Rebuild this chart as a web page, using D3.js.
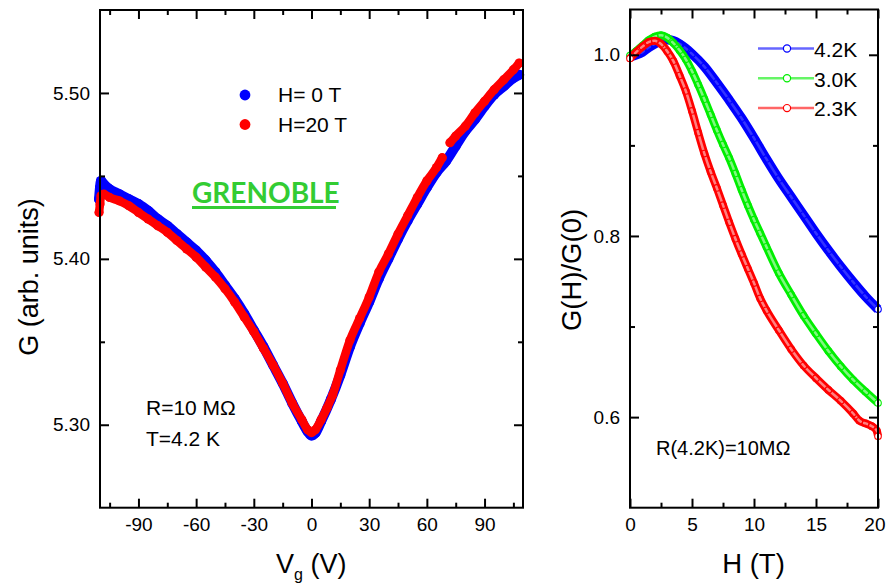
<!DOCTYPE html>
<html>
<head>
<meta charset="utf-8">
<script src="https://cdn.jsdelivr.net/npm/d3@7"></script>
<style>
  html, body { margin: 0; padding: 0; background: #fff; }
  svg { display: block; font-family: "Liberation Sans", Arial, sans-serif; }
</style>
</head>
<body>
<svg id="chart" width="886" height="586"></svg>
<script>
// Conductance vs gate voltage at T = 4.2 K, [Vg (V), G (arb. units)]
const sweepH0 = [
  [-110.5,5.436],[-110,5.443],[-109.5,5.447],[-108,5.445],[-105,5.442],[-100,5.439],
  [-95,5.436],[-90,5.433],[-85,5.429],[-80,5.424],[-75,5.420],[-70,5.415],[-65,5.410],
  [-60,5.405],[-55,5.399],[-50,5.392],[-45,5.384],[-40,5.376],[-35,5.367],[-30,5.357],
  [-25,5.347],[-20,5.336],[-15,5.325],[-10,5.313],[-5,5.302],[-2,5.296],[0,5.2935],
  [2,5.295],[5,5.302],[10,5.315],[15,5.330],[20,5.347],[25,5.361],[30,5.374],[35,5.388],
  [40,5.400],[45,5.412],[50,5.423],[55,5.433],[60,5.443],[65,5.452],[70,5.459],[75,5.468],
  [80,5.477],[85,5.484],[90,5.492],[95,5.499],[100,5.504],[105,5.509],[108,5.511]
];
// H = 20 T sweep; the null entry marks the step near Vg = 70 V
const sweepH20 = [
  [-110.5,5.428],[-110,5.433],[-109.5,5.438],[-108,5.439],[-105,5.437],[-100,5.435],
  [-95,5.432],[-90,5.428],[-85,5.424],[-80,5.420],[-75,5.416],[-70,5.411],[-65,5.406],
  [-60,5.401],[-55,5.395],[-50,5.389],[-45,5.382],[-40,5.374],[-35,5.365],[-30,5.356],
  [-25,5.346],[-20,5.336],[-15,5.325],[-10,5.313],[-5,5.303],[-2,5.297],[0,5.2953],
  [2,5.297],[5,5.303],[8,5.310],[11,5.318],[15,5.333],[20,5.351],[25,5.364],[30,5.377],
  [35,5.392],[40,5.403],[45,5.415],[50,5.426],[55,5.437],[60,5.447],[65,5.455],[68,5.461],
  [70,null],
  [72,5.470],[75,5.474],[80,5.480],[85,5.488],[90,5.495],[95,5.502],[100,5.508],
  [105,5.514],[108,5.518]
];

// Normalised magnetoconductance G(H)/G(0), [H (T), ratio]
const ratio42K = [
  [0,0.998],[0.5,1.000],[1,1.003],[1.5,1.008],[2,1.012],[2.5,1.0155],[3,1.0165],
  [3.5,1.0155],[4,1.012],[4.5,1.007],[5,1.001],[6,0.987],[7,0.969],[8,0.950],[9,0.930],
  [10,0.908],[11,0.885],[12,0.863],[13,0.843],[14,0.823],[15,0.803],[16,0.784],
  [17,0.766],[18,0.749],[19,0.733],[20,0.719]
];
const ratio30K = [
  [0,0.999],[0.5,1.004],[1,1.010],[1.5,1.016],[2,1.020],[2.5,1.0215],[3,1.019],
  [3.5,1.013],[4,1.005],[4.5,0.995],[5,0.982],[5.5,0.967],[6,0.951],[6.5,0.934],
  [7,0.917],[7.5,0.901],[8,0.886],[8.5,0.869],[9,0.851],[9.5,0.834],[10,0.818],
  [10.5,0.803],[11,0.788],[12,0.759],[13,0.735],[14,0.712],[15,0.692],[16,0.673],
  [17,0.656],[18,0.641],[19,0.628],[20,0.6155]
];
const ratio23K = [
  [0,0.996],[0.5,1.003],[1,1.009],[1.5,1.014],[2,1.0155],[2.5,1.012],[3,1.004],
  [3.5,0.993],[4,0.977],[4.5,0.960],[5,0.938],[5.5,0.914],[6,0.891],[6.5,0.871],
  [7,0.853],[7.5,0.834],[8,0.815],[8.5,0.797],[9,0.780],[9.5,0.764],[10,0.748],
  [10.5,0.731],[11,0.718],[12,0.696],[13,0.675],[14,0.657],[15,0.643],[16,0.630],
  [17,0.618],[18,0.604],[18.5,0.596],[19,0.593],[19.5,0.590],[19.9,0.585],[20,0.579]
];

// Tick positions
const vgMajor = [-90, -60, -30, 0, 30, 60, 90];
const vgMinor = [-105, -75, -45, -15, 15, 45, 75, 105];
const gMajor = [5.30, 5.40, 5.50];
const gMinor = [5.35, 5.45];
const hMajor = [0, 5, 10, 15, 20];
const hMinor = [2.5, 7.5, 12.5, 17.5];
const rMajor = [0.6, 0.8, 1.0];
const rMinor = [0.7, 0.9];

const legendLeft = [
  { label: "H= 0 T", color: "#0000ff" },
  { label: "H=20 T", color: "#ff0000" }
];
const legendRight = [
  { label: "4.2K", color: "#0000ff" },
  { label: "3.0K", color: "#00ee00" },
  { label: "2.3K", color: "#ff0000" }
];

const svg = d3.select("#chart");
const FONT = "'Liberation Sans', Arial, sans-serif";

// Scales
const xL = d3.scaleLinear().domain([-110, 110]).range([100, 523]);
const yL = d3.scaleLinear().domain([5.25, 5.55]).range([507.7, 10]);
const xR = d3.scaleLinear().domain([0, 20]).range([630, 878]);
const yR = d3.scaleLinear().domain([0.5, 1.05]).range([507.7, 9.5]);

// Boxed frame with inward ticks on all four sides
function frame(x, y, xMaj, xMin, yMaj, yMin, xFmt, yFmt) {
  const [x0, x1] = x.range();
  const [y0, y1] = y.range();
  const g = svg.append("g");
  const style = sel => {
    sel.select(".domain").remove();
    sel.attr("font-size", 19).attr("font-family", FONT);
    sel.selectAll("line").attr("stroke", "#000").attr("stroke-width", 2);
    sel.selectAll("text").attr("fill", "#000");
  };
  const bottom = g.append("g").attr("transform", `translate(0,${y0})`)
    .call(d3.axisBottom(x).tickValues(xMaj).tickSizeInner(-9).tickSizeOuter(0).tickPadding(10).tickFormat(xFmt)).call(style);
  g.append("g").attr("transform", `translate(0,${y0})`)
    .call(d3.axisBottom(x).tickValues(xMin).tickSizeInner(-5).tickSizeOuter(0).tickFormat("")).call(style);
  g.append("g").attr("transform", `translate(0,${y1})`)
    .call(d3.axisTop(x).tickValues(xMaj).tickSizeInner(-9).tickSizeOuter(0).tickFormat("")).call(style);
  g.append("g").attr("transform", `translate(0,${y1})`)
    .call(d3.axisTop(x).tickValues(xMin).tickSizeInner(-5).tickSizeOuter(0).tickFormat("")).call(style);
  g.append("g").attr("transform", `translate(${x0},0)`)
    .call(d3.axisLeft(y).tickValues(yMaj).tickSizeInner(-9).tickSizeOuter(0).tickPadding(10).tickFormat(yFmt)).call(style);
  g.append("g").attr("transform", `translate(${x0},0)`)
    .call(d3.axisLeft(y).tickValues(yMin).tickSizeInner(-5).tickSizeOuter(0).tickFormat("")).call(style);
  g.append("g").attr("transform", `translate(${x1},0)`)
    .call(d3.axisRight(y).tickValues(yMaj).tickSizeInner(-9).tickSizeOuter(0).tickFormat("")).call(style);
  g.append("g").attr("transform", `translate(${x1},0)`)
    .call(d3.axisRight(y).tickValues(yMin).tickSizeInner(-5).tickSizeOuter(0).tickFormat("")).call(style);
  g.append("rect")
    .attr("x", x0).attr("y", y1).attr("width", x1 - x0).attr("height", y0 - y1)
    .attr("fill", "none").attr("stroke", "#000").attr("stroke-width", 2);
  return bottom;
}

// ---------- Left panel: G vs Vg ----------
const lineL = d3.line()
  .defined(d => d[1] != null)
  .x(d => xL(d[0])).y(d => yL(d[1]))
  .curve(d3.curveMonotoneX);

function sweep(data, color, width, r) {
  const g = svg.append("g");
  g.append("path").attr("d", lineL(data))
    .attr("fill", "none").attr("stroke", color).attr("stroke-width", width)
    .attr("stroke-linecap", "round").attr("stroke-linejoin", "round");
  g.selectAll("circle").data(data.filter(d => d[1] != null)).join("circle")
    .attr("cx", d => xL(d[0])).attr("cy", d => yL(d[1])).attr("r", r)
    .attr("fill", color);
}
sweep(sweepH0, "#0000ff", 10, 5);
sweep(sweepH20, "#ff0000", 8.5, 4.6);

frame(xL, yL, vgMajor, vgMinor, gMajor, gMinor, d => String(d), d3.format(".2f"));

// Legend (left)
legendLeft.forEach((d, i) => {
  svg.append("circle").attr("cx", 245).attr("cy", 95 + i * 29.5).attr("r", 5.4).attr("fill", d.color);
  svg.append("text").attr("x", 278).attr("y", 102 + i * 29.5)
    .attr("font-size", 21).attr("font-family", FONT).attr("fill", "#000").text(d.label);
});

// Site label
svg.append("text").attr("x", 192).attr("y", 203)
  .attr("font-family", "Lato, 'Open Sans', sans-serif").attr("font-weight", 700)
  .attr("font-size", 28).attr("fill", "#33cc33").text("GRENOBLE");
svg.append("rect").attr("x", 192).attr("y", 206).attr("width", 144).attr("height", 3).attr("fill", "#33cc33");

// Sample notes
svg.append("text").attr("x", 146).attr("y", 415).attr("font-size", 21).attr("font-family", FONT).text("R=10 M\u03A9");
svg.append("text").attr("x", 146).attr("y", 446).attr("font-size", 21).attr("font-family", FONT).text("T=4.2 K");

// Axis titles (left)
svg.append("text").attr("transform", "translate(37.5,277) rotate(-90)")
  .attr("text-anchor", "middle").attr("font-size", 27).attr("font-family", FONT).text("G (arb. units)");
const vgTitle = svg.append("text").attr("x", 276).attr("y", 573).attr("font-size", 27).attr("font-family", FONT);
vgTitle.append("tspan").text("V");
vgTitle.append("tspan").attr("dy", 7).attr("font-size", 16).text("g");
vgTitle.append("tspan").attr("dy", -7).text(" (V)");

// ---------- Right panel: G(H)/G(0) vs H ----------
const lineR = d3.line().x(d => xR(d[0])).y(d => yR(d[1])).curve(d3.curveMonotoneX);

function ratioCurve(data, color, width, glow) {
  const g = svg.append("g");
  g.append("path").attr("d", lineR(data)).attr("fill", "none")
    .attr("stroke", color).attr("stroke-width", width).attr("stroke-linejoin", "round");
  g.append("path").attr("d", lineR(data)).attr("fill", "none")
    .attr("stroke", "#fff").attr("stroke-opacity", glow).attr("stroke-width", 2.5);
  g.selectAll("circle").data(data).join("circle")
    .attr("cx", d => xR(d[0])).attr("cy", d => yR(d[1])).attr("r", 3.3)
    .attr("fill", (d, i) => (i === 0 || i === data.length - 1) ? "#fff" : "none")
    .attr("stroke", color).attr("stroke-width", 1.1);
}
ratioCurve(ratio42K, "#0000ff", 9.5, 0.2);
ratioCurve(ratio30K, "#00ee00", 8, 0.5);
ratioCurve(ratio23K, "#ff0000", 8, 0.5);

const hAxis = frame(xR, yR, hMajor, hMinor, rMajor, rMinor, d => String(d), d3.format(".1f"));
// keep the last field label inside the page edge
hAxis.selectAll(".tick text").filter(d => d === 20)
  .attr("text-anchor", "end").attr("x", 886 - xR(20) - 1);

// Legend (right)
legendRight.forEach((d, i) => {
  const cy = 48.5 + i * 29.8;
  svg.append("line").attr("x1", 758).attr("x2", 814).attr("y1", cy).attr("y2", cy)
    .attr("stroke", d.color).attr("stroke-opacity", 0.6).attr("stroke-width", 2.5);
  svg.append("circle").attr("cx", 787).attr("cy", cy).attr("r", 3.6)
    .attr("fill", "#fff").attr("stroke", d.color).attr("stroke-width", 1.2);
  svg.append("text").attr("x", 814).attr("y", cy + 8.3)
    .attr("font-size", 21).attr("font-family", FONT).text(d.label);
});

svg.append("text").attr("x", 656).attr("y", 455).attr("font-size", 20).attr("font-family", FONT).text("R(4.2K)=10M\u03A9");

// Axis titles (right)
svg.append("text").attr("transform", "translate(581,270) rotate(-90)")
  .attr("text-anchor", "middle").attr("font-size", 27.5).attr("font-family", FONT).text("G(H)/G(0)");
svg.append("text").attr("x", 753.5).attr("y", 573).attr("text-anchor", "middle")
  .attr("font-size", 27.5).attr("font-family", FONT).text("H (T)");
</script>
</body>
</html>
